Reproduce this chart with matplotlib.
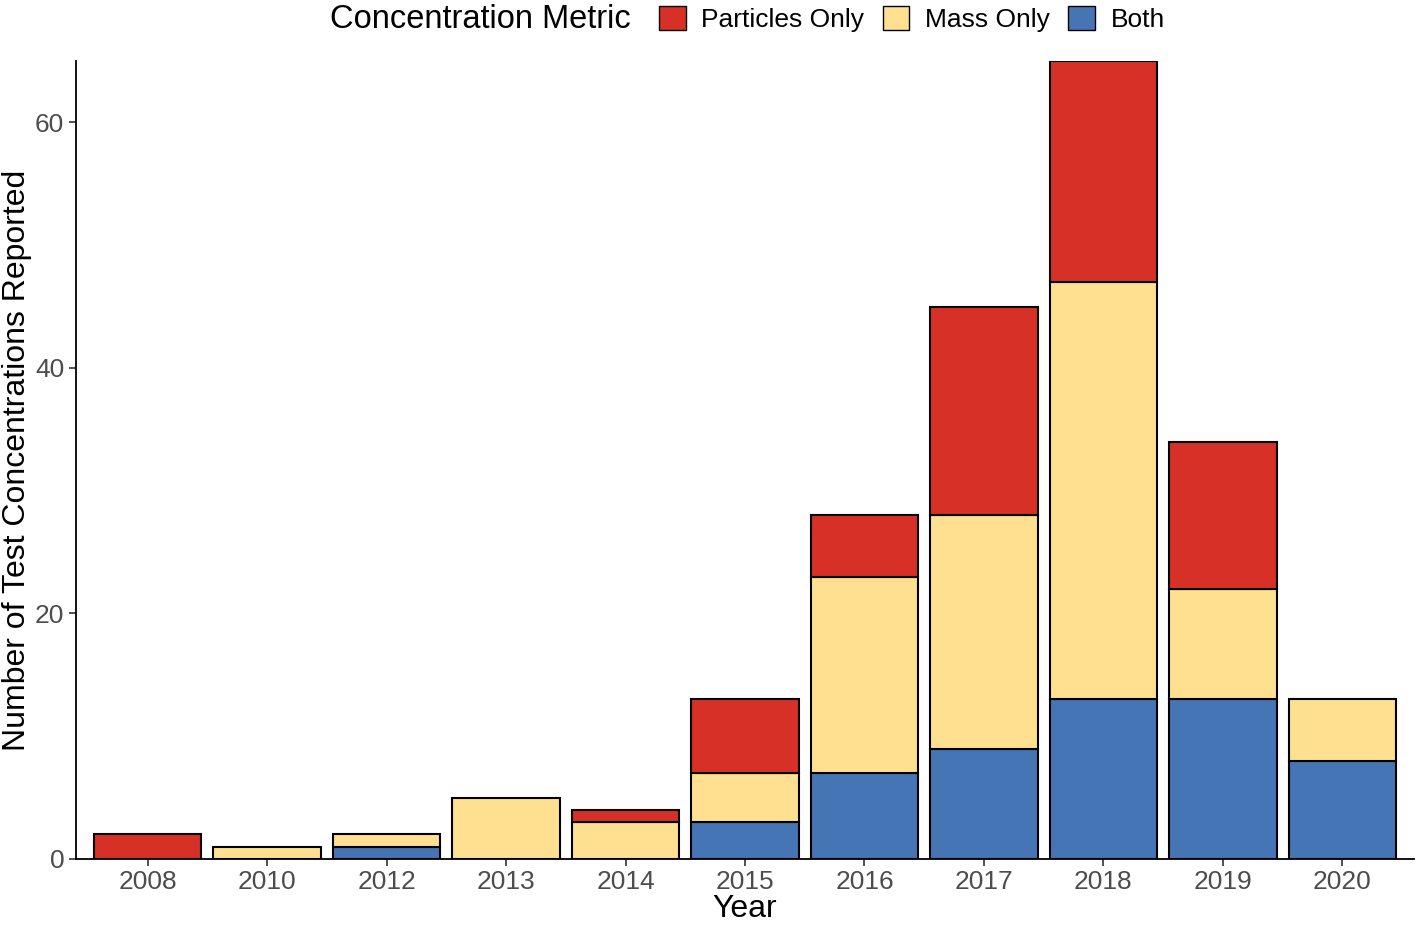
import numpy as np
import matplotlib.pyplot as plt
from matplotlib.patches import Patch

plt.rcParams['font.family'] = ['Liberation Sans', 'DejaVu Sans']

# data
years = ['2008', '2010', '2012', '2013', '2014', '2015', '2016', '2017', '2018', '2019', '2020']
both = [0, 0, 1, 0, 0, 3, 7, 9, 13, 13, 8]
mass_only = [0, 1, 1, 5, 3, 4, 16, 19, 34, 9, 5]
particles_only = [2, 0, 0, 0, 1, 6, 5, 17, 18, 12, 0]

red = '#d73027'
yellow = '#fee090'
blue = '#4575b4'

fig = plt.figure(figsize=(14.16, 9.25), dpi=100)
ax = fig.add_axes([76 / 1416, 66 / 925, 1338 / 1416, 798 / 925])

x = np.arange(len(years))
w = 0.9
both = np.array(both)
mass_only = np.array(mass_only)
particles_only = np.array(particles_only)

# stacked bars, skip zero-height segments so no stray edges are drawn
def stack(vals, bottom, color):
    m = vals > 0
    ax.bar(x[m], vals[m], width=w, bottom=bottom[m], color=color,
           edgecolor='black', linewidth=1.5)

stack(both, np.zeros(len(x)), blue)
stack(mass_only, both, yellow)
stack(particles_only, both + mass_only, red)

ax.set_xlim(-0.6, len(years) - 0.4)
ax.set_ylim(0, 65)
ax.set_xticks(x)
ax.set_xticklabels(years)
ax.set_yticks([0, 20, 40, 60])
ax.tick_params(axis='both', labelsize=19, labelcolor='#4d4d4d', color='#333333',
               length=5, width=1.2)
ax.tick_params(axis='x', pad=3)
ax.set_xlabel('Year', fontsize=23, labelpad=0)
ax.set_ylabel('Number of Test Concentrations Reported', fontsize=23)
ax.yaxis.set_label_coords(-44 / 1338, 0.5)

for side in ['top', 'right']:
    ax.spines[side].set_visible(False)
for side in ['left', 'bottom']:
    ax.spines[side].set_linewidth(1.3)

# legend across the top, title to the left of the keys
fig.text(330 / 1416, 1 - 19 / 925, 'Concentration Metric', fontsize=23.5,
         ha='left', va='center')
handles = [Patch(facecolor=red, edgecolor='black', label='Particles Only'),
           Patch(facecolor=yellow, edgecolor='black', label='Mass Only'),
           Patch(facecolor=blue, edgecolor='black', label='Both')]
fig.legend(handles=handles, ncol=3, loc='center left',
           bbox_to_anchor=(646 / 1416, 1 - 19 / 925), frameon=False,
           fontsize=19, handlelength=1.0, handleheight=1.0,
           handletextpad=0.6, columnspacing=0.7, borderpad=0)

fig.savefig('out.png', dpi=100)
